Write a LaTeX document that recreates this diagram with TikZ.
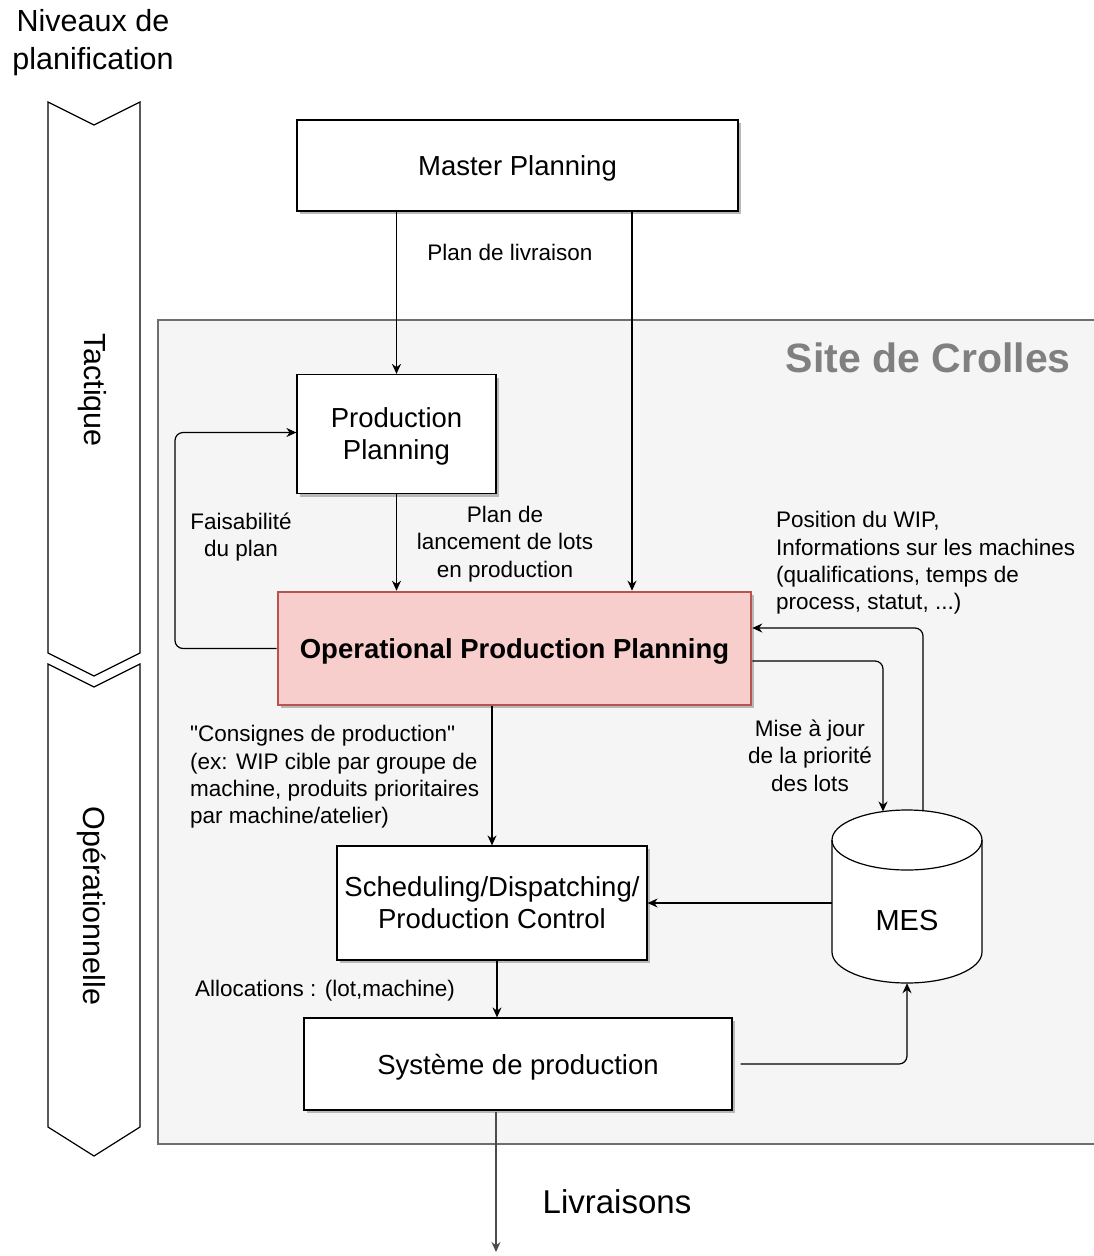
\documentclass[tikz,border=0pt]{standalone}
\usepackage{fontspec}
\setmainfont{Liberation Sans}[Ligatures=TeXOff]
\usetikzlibrary{shadows,arrows.meta}
\definecolor{oppfill}{HTML}{F8CECC}
\definecolor{oppdraw}{HTML}{B85450}
\definecolor{sitefill}{HTML}{F5F5F5}
\definecolor{siteline}{HTML}{6E6E6E}
\begin{document}
\begin{tikzpicture}[x=1pt,y=-1pt,
  mainfont/.style={font=\fontsize{27.5}{32}\selectfont},
  lblfont/.style={font=\fontsize{22.5}{27.4}\selectfont},
  box/.style={draw=black, line width=1.2pt, fill=white, align=center, inner sep=0pt, mainfont, text depth=0pt,
    drop shadow={shadow xshift=3pt, shadow yshift=-3pt, fill=black!28, opacity=1}},
  lbl/.style={inner sep=0pt, lblfont},
  conn/.style={draw=black, line width=1.2pt, rounded corners=8pt, -{Stealth[length=10pt,width=9pt]}},
  chev/.style={draw=black, line width=1.2pt, fill=white, line join=miter},
  sidefont/.style={font=\fontsize{30.5}{38}\selectfont}
]
\useasboundingbox (0,0) rectangle (1094,1256);

% planning levels
\node[align=center, inner sep=0pt, sidefont] (niv) at (93,43) {Niveaux de\\planification};
\path[chev] (48,102) -- (94,125) -- (140,102) -- (140,653) -- (94,676) -- (48,653) -- cycle;
\path[chev] (48,664) -- (94,687) -- (140,664) -- (140,1127) -- (94,1156) -- (48,1127) -- cycle;
\node[rotate=-90, inner sep=0pt, sidefont] (tact) at (92,390) {Tactique};
\node[rotate=-90, inner sep=0pt, sidefont] (oper) at (92,906) {Opérationnelle};

% site
\draw[draw=siteline, fill=sitefill, line width=2.6pt] (158,320) rectangle (1120,1144);
\node[anchor=east, inner sep=0pt, text=black!50, font=\fontsize{41}{46}\selectfont\bfseries] (site) at (1071,358) {Site de Crolles};

% boxes
\node[box, minimum width=441pt, minimum height=91pt] (master) at (517.5,165.5) {Master Planning};
\node[box, minimum width=199pt, minimum height=119pt] (pp) at (396.5,434) {Production\\Planning};
\node[box, draw=oppdraw, fill=oppfill, line width=2.6pt, minimum width=473pt, minimum height=113pt, font=\fontsize{27.5}{32}\selectfont\bfseries] (opp) at (514.5,648.5) {Operational Production Planning};
\node[box, minimum width=310pt, minimum height=114pt] (sched) at (492,903) {Scheduling/Dispatching/\\Production Control};
\node[box, minimum width=428pt, minimum height=92pt] (sys) at (518,1064) {Système de production};

% MES cylinder
\node[inner sep=0pt, minimum width=150pt, minimum height=173pt] (mes) at (907,896.5) {};
\draw[line width=1.2pt, fill=white] (832,840) -- (832,952)
  arc[start angle=180, end angle=360, x radius=75pt, y radius=31pt] -- (982,840)
  arc[start angle=0, end angle=180, x radius=75pt, y radius=30pt] -- cycle;
\draw[line width=1.2pt] (832,840) arc[start angle=180, end angle=360, x radius=75pt, y radius=30pt];
\node[inner sep=0pt, font=\fontsize{29}{32}\selectfont] (mestxt) at (907,921) {MES};

% helper coordinates
\coordinate (x632) at (632,0);
\coordinate (x497) at (497,0);
\coordinate (y628) at (0,628);
\coordinate (y661) at (0,661);
\coordinate (mesT) at (923,811);
\coordinate (mesTL) at (883,811.5);
\coordinate (livr) at (496,1252);

% connectors
\draw[conn] (pp.north |- master.south) -- (pp.north);
\draw[conn] (x632 |- master.south) -- (x632 |- opp.north);
\draw[conn] (pp.south) -- (pp.south |- opp.north);
\draw[conn] (opp.west) -- (175,648.5) -- (175,432.5) -- (pp.west |- 0,432.5);
\draw[conn] (mesT) -- (923,628) -- (opp.east |- y628);
\draw[conn] (opp.east |- y661) -- (883,661) -- (mesTL);
\draw[conn] (sched.north |- opp.south) -- (sched.north);
\draw[conn] (sched.east -| mes.west) -- (sched.east);
\draw[conn] (x497 |- sched.south) -- (x497 |- sys.north);
\draw[conn] ([xshift=8pt]sys.east) -- (907,1064) -- (mes.south);
\draw[conn, draw=black!70] (496,1112) -- (livr);

% labels
\node[lbl] (l1) at (510,252) {Plan de livraison};
\node[lbl, align=center] (l2) at (505,544) {Plan de\\lancement de lots\\en production};
\node[lbl, align=center] (l3) at (241,537) {Faisabilité\\du plan};
\node[lbl, align=left, anchor=west] (l4) at (776,563) {Position du WIP,\\Informations sur les machines\\(qualifications, temps de\\process, statut, ...)};
\node[lbl, align=center] (l5) at (810,755.5) {Mise à jour\\de la priorité\\des lots};
\node[lbl, align=left, anchor=west] (l6) at (190,777) {"Consignes de production"\\(ex: WIP cible par groupe de\\machine, produits prioritaires\\par machine/atelier)};
\node[lbl, anchor=west] (l7) at (195,991) {Allocations : (lot,machine)};
\node[inner sep=0pt, font=\fontsize{33}{36}\selectfont] (l8) at (617,1202) {Livraisons};
\end{tikzpicture}
\end{document}
